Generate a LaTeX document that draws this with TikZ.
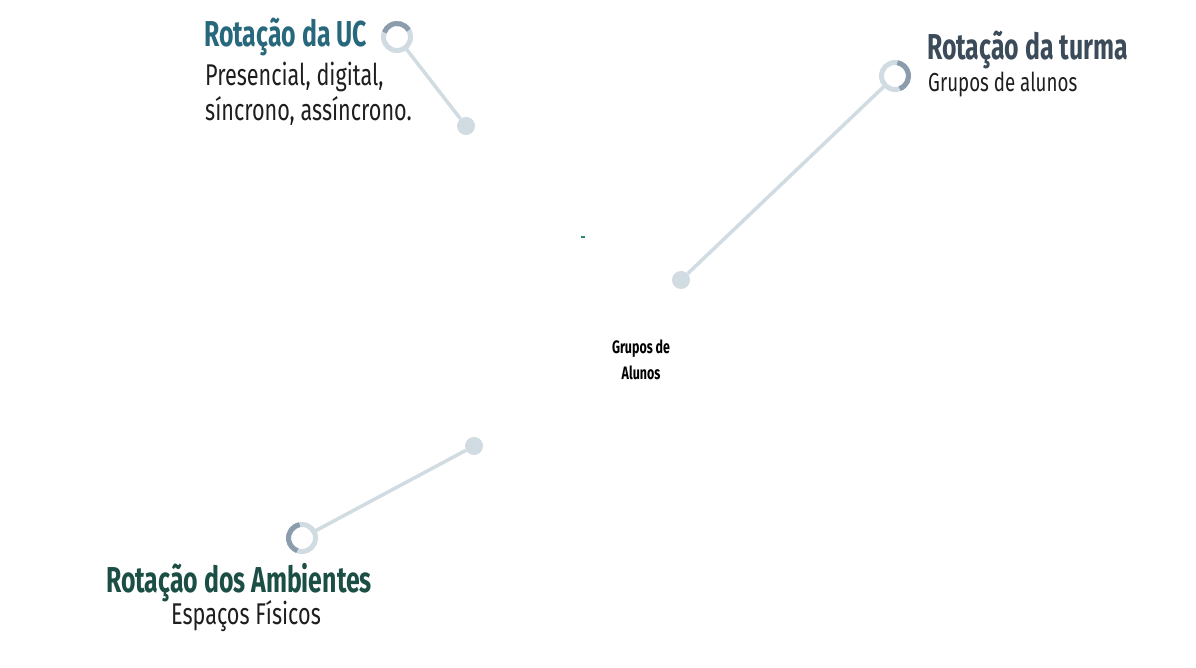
\documentclass[tikz,border=0pt]{standalone}
\usepackage{fontspec}
\setmainfont{Fira Sans}[FakeStretch=0.69]
\newfontfamily\bodyfont{Fira Sans}[FakeStretch=0.72]
\definecolor{ringlight}{HTML}{D1DBE2}
\definecolor{ringdark}{HTML}{8B9CAC}
\definecolor{ucblue}{HTML}{27687C}
\definecolor{turmaslate}{HTML}{3B4B5A}
\definecolor{ambgreen}{HTML}{1B4E44}
\definecolor{bodyink}{HTML}{1E1E1E}
\definecolor{markgreen}{HTML}{2E8B6E}
\tikzset{
  ring/.style={circle, draw=ringlight, line width=5pt, minimum size=27pt, inner sep=0pt, outer sep=0pt},
  dot/.style={circle, fill=ringlight, minimum size=18pt, inner sep=0pt},
  stem/.style={draw=ringlight, line width=3.5pt},
  darkarc/.style={draw=ringdark, line width=5pt},
  title/.style={anchor=base west, inner sep=0pt, font=\bfseries\fontsize{36}{40}\selectfont},
  body/.style={anchor=base west, inner sep=0pt, align=left, text=bodyink, font=\bodyfont\fontsize{30}{35}\selectfont}
}
\begin{document}
\begin{tikzpicture}[x=1pt, y=1pt]
    \useasboundingbox (0,0) rectangle (1196,667);

    % Rotacao da UC
    \node[title, text=ucblue] (tUC) at (204,620) {Rotação da UC};
    \node[body] (bUC1) at (205,581) {Presencial, digital,};
    \node[body] (bUC2) at (205,546) {síncrono, assíncrono.};
    \node[ring] (rUC) at (397,630) {};
    \node[dot] (dUC) at (466,541) {};
    \draw[stem] (rUC) -- (dUC);
    \draw[darkarc] (rUC.30) arc[start angle=30, end angle=160, radius=13.5pt];

    % Rotacao da turma
    \node[title, text=turmaslate] (tTurma) at (927,607) {Rotação da turma};
    \node[body, font=\bodyfont\fontsize{26}{30}\selectfont] (bTurma) at (928,575) {Grupos de alunos};
    \node[ring] (rTurma) at (895,591) {};
    \node[dot] (dTurma) at (681,387) {};
    \draw[stem] (rTurma) -- (dTurma);
    \draw[darkarc] (rTurma.-70) arc[start angle=-70, end angle=80, radius=13.5pt];

    % Rotacao dos Ambientes
    \node[title, text=ambgreen] (tAmb) at (106,75) {Rotação dos Ambientes};
    \node[body, anchor=base] (bAmb) at (246,43) {Espaços Físicos};
    \node[ring] (rAmb) at (302,129) {};
    \node[dot] (dAmb) at (474,221) {};
    \draw[stem] (rAmb) -- (dAmb);
    \draw[darkarc] (rAmb.100) arc[start angle=100, end angle=250, radius=13.5pt];

    % centre
    \node[align=center, font=\bfseries\fontsize{18}{26}\selectfont] (grupos) at (641,307) {Grupos de\\Alunos};
    \coordinate (mk) at (581,430);
    \draw[markgreen, line width=1.2pt] (mk) -- ++(4,0);
\end{tikzpicture}
\end{document}
